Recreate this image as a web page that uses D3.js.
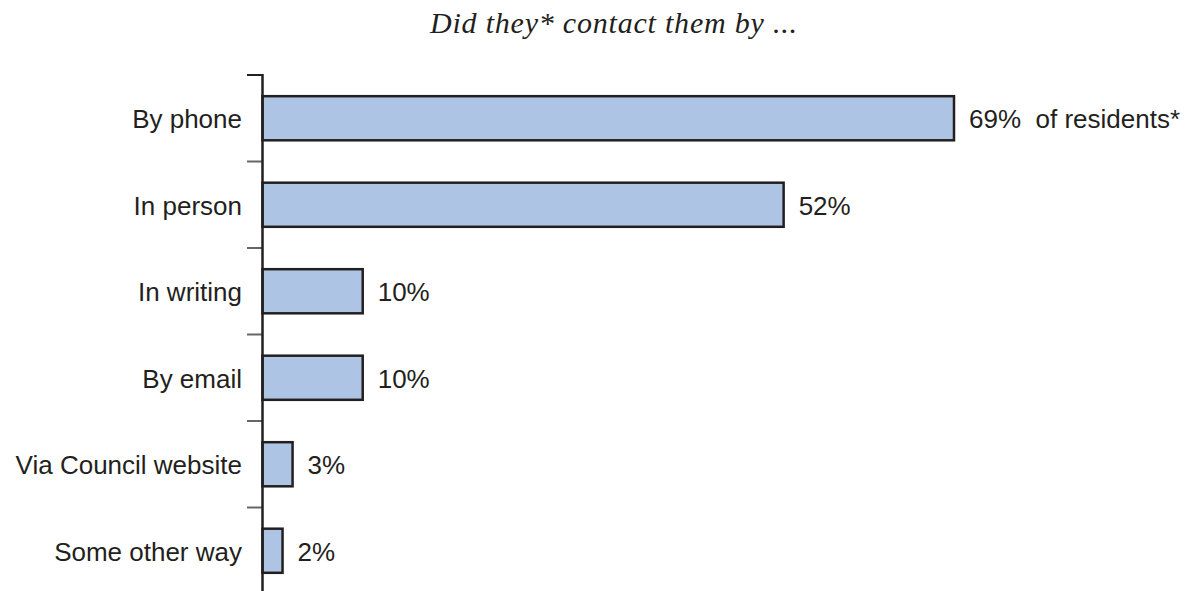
<!DOCTYPE html>
<html>
<head>
<meta charset="utf-8">
<script src="https://cdn.jsdelivr.net/npm/d3@7"></script>
<style>
  html, body { margin: 0; padding: 0; background: #fff; }
  svg { display: block; }
</style>
</head>
<body>
<svg id="chart" width="1190" height="591"></svg>
<script>
// Contact methods and share of residents using each
const categories = ["By phone", "In person", "In writing", "By email", "Via Council website", "Some other way"];
const values = [69, 52, 10, 10, 3, 2];
const valueLabels = ["69%  of residents*", "52%", "10%", "10%", "3%", "2%"];
const title = "Did they* contact them by ...";

const svg = d3.select("#chart");
const axisX = 262.5;

const x = d3.scaleLinear().domain([0, 69]).range([axisX, 954]);
const y = d3.scaleBand().domain(categories).range([75, 594]).paddingInner(0.49).paddingOuter(0.245);
const band = d3.scaleBand().domain(categories).range([75, 594]);

// Title
svg.append("text")
  .attr("x", 430)
  .attr("y", 33)
  .attr("textLength", 367)
  .attr("lengthAdjust", "spacing")
  .attr("font-family", "'Liberation Serif', 'Times New Roman', serif")
  .attr("font-style", "italic")
  .attr("font-size", 30)
  .attr("fill", "#231f20")
  .text(title);

// Bars
svg.selectAll("rect.bar")
  .data(categories)
  .join("rect")
  .attr("class", "bar")
  .attr("x", axisX)
  .attr("y", d => y(d))
  .attr("width", (d, i) => x(values[i]) - axisX)
  .attr("height", y.bandwidth())
  .attr("fill", "#aec4e5")
  .attr("stroke", "#231f20")
  .attr("stroke-width", 2.5);

// Band separator ticks on the category axis
const tickYs = categories.map(c => band(c)).concat([594]);
svg.selectAll("line.tick")
  .data(tickYs)
  .join("line")
  .attr("x1", 247)
  .attr("x2", axisX)
  .attr("y1", d => d)
  .attr("y2", d => d)
  .attr("stroke", (d, i) => i === 0 ? "#231f20" : "#666")
  .attr("stroke-width", 2);

// Category axis line
svg.append("line")
  .attr("x1", axisX).attr("x2", axisX)
  .attr("y1", 74).attr("y2", 594)
  .attr("stroke", "#231f20")
  .attr("stroke-width", 2.5);

// Category labels
svg.selectAll("text.cat")
  .data(categories)
  .join("text")
  .attr("class", "cat")
  .attr("x", 242)
  .attr("y", d => y(d) + y.bandwidth() / 2)
  .attr("dy", "0.38em")
  .attr("text-anchor", "end")
  .attr("font-family", "'Liberation Sans', Arial, sans-serif")
  .attr("font-size", 26)
  .attr("fill", "#231f20")
  .text(d => d);

// Value labels
svg.selectAll("text.val")
  .data(categories)
  .join("text")
  .attr("class", "val")
  .attr("x", (d, i) => x(values[i]) + 15)
  .attr("y", d => y(d) + y.bandwidth() / 2)
  .attr("dy", "0.38em")
  .attr("font-family", "'Liberation Sans', Arial, sans-serif")
  .attr("font-size", 26)
  .attr("fill", "#231f20")
  .style("white-space", "pre")
  .text((d, i) => valueLabels[i]);
</script>
</body>
</html>
